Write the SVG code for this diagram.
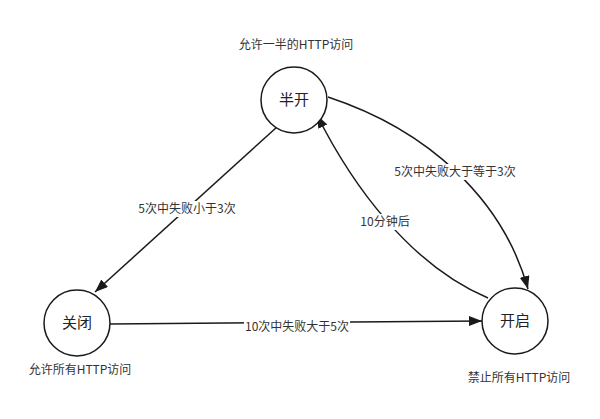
<svg xmlns="http://www.w3.org/2000/svg" width="600" height="419" viewBox="0 0 600 419">
<style>
.node circle{fill:#fff;stroke:#1a1a1a;stroke-width:1.5}
.nl{font-family:"Noto Sans CJK SC","Noto Sans",sans-serif;font-size:15px;fill:#222;text-anchor:middle}
.t{font-family:"Noto Sans CJK SC","Noto Sans",sans-serif;font-size:12px;fill:#333;text-anchor:middle}
.e{fill:none;stroke:#1a1a1a;stroke-width:1.5;marker-end:url(#arr)}
.bg{fill:#fff}
</style>
<defs>
<marker id="arr" markerUnits="userSpaceOnUse" markerWidth="14" markerHeight="12" refX="13" refY="5" orient="auto">
<path d="M0,0 L13,5 L0,10 z" fill="#1a1a1a"/>
</marker>
</defs>
<rect width="600" height="419" fill="#fff"/>
<g id="connectors">
<path class="e" d="M277,127 L95,292"/>
<path class="e" d="M110,324 L482,321"/>
<path class="e" d="M328,97 C428,130 503,199 528,289"/>
<path class="e" d="M488,298 C410,265 352,185 317,115"/>
<rect class="bg" x="137" y="201" width="100" height="16"/>
<text class="t" x="187" y="213">5次中失败小于3次</text>
<rect class="bg" x="394" y="164" width="122" height="16"/>
<text class="t" x="455" y="176">5次中失败大于等于3次</text>
<rect class="bg" x="360" y="214" width="50" height="16"/>
<text class="t" x="385" y="226">10分钟后</text>
<rect class="bg" x="244" y="319" width="106" height="16"/>
<text class="t" x="297" y="331">10次中失败大于5次</text>
</g>
<g id="half-open" class="node">
<circle cx="294" cy="100" r="33"/>
<text class="nl" x="294" y="105">半开</text>
<text class="t" x="296" y="49">允许一半的HTTP访问</text>
</g>
<g id="closed" class="node">
<circle cx="77" cy="323" r="33"/>
<text class="nl" x="77" y="328">关闭</text>
<text class="t" x="80" y="374">允许所有HTTP访问</text>
</g>
<g id="open" class="node">
<circle cx="515" cy="321" r="33"/>
<text class="nl" x="515" y="326">开启</text>
<text class="t" x="519" y="382">禁止所有HTTP访问</text>
</g>
</svg>
